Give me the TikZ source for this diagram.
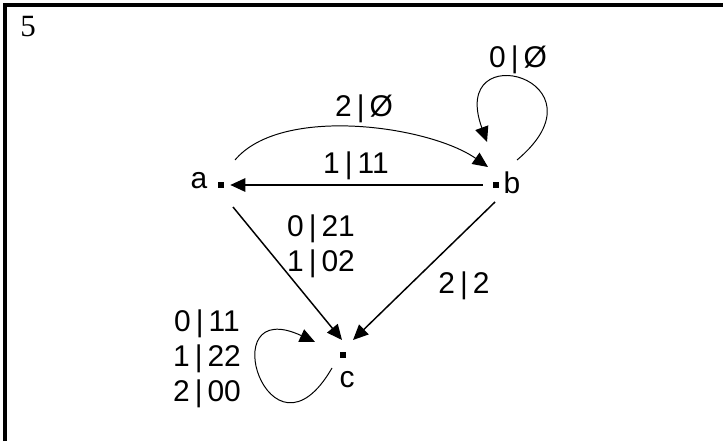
\documentclass[tikz,border=0pt]{standalone}
\usepackage{fontspec}
\setmainfont{Liberation Serif}
\newfontfamily\labelfont{Liberation Sans}
\usetikzlibrary{arrows.meta,positioning,calc}
\tikzset{
  vertex/.style={rectangle,fill=black,minimum size=0.15cm,inner sep=0pt},
  lbl/.style={font=\labelfont\fontsize{21.3}{24.9}\selectfont,inner sep=0pt,align=center},
  strongarr/.style={-{Triangle[length=0.38cm,width=0.34cm]},line width=1.05pt},
  thinarr/.style={-{Triangle[length=0.38cm,width=0.34cm]},line width=0.7pt}
}
\newcommand{\io}[2]{#1\,|\,#2}

\begin{document}
\begin{tikzpicture}[x=0.025cm,y=0.025cm]
  \useasboundingbox (0,0) rectangle (723,441);
  \draw[line width=0.1125cm] (5,0) -- (5,436) -- (723,436);
  \node[font=\fontsize{22}{26}\selectfont,inner sep=0pt] (num) at (28,414) {5};

  % states
  \node[vertex] (a) at (221,256) {};
  \node[vertex] (b) at (496,256) {};
  \node[vertex] (c) at (343,86) {};
  \node[lbl] (na) at (199,260.5) {a};
  \node[lbl] (nb) at (512,258.5) {b};
  \node[lbl] (nc) at (347,61.5) {c};

  % transitions
  \draw[strongarr,shorten <=0.25cm,shorten >=0.15cm] (b) -- (a);
  \draw[strongarr] ([shift={(12,-22)}]a.center) -- ([shift={(-1,15)}]c.center);
  \draw[strongarr] ([shift={(-1,-17)}]b.center) -- ([shift={(10,15)}]c.center);
  \draw[thinarr] ([shift={(14,25)}]a.center) .. controls +(50:72) and +(145:72) .. ([shift={(-8,18)}]b.center);
  \draw[thinarr] ([shift={(21,25)}]b.center) .. controls +(40:125) and +(110:115) .. ([shift={(-9,43)}]b.center);
  \draw[thinarr] ([shift={(-11,-13)}]c.center) .. controls +(240:125) and +(155:115) .. ([shift={(-28,13)}]c.center);

  % labels
  \node[lbl] (lab) at (364,332.5) {\io{2}{Ø}};
  \node[lbl] (lbb) at (518,381) {\io{0}{Ø}};
  \node[lbl] (lba) at (356,275) {\io{1}{11}};
  \node[lbl] (lac) at (321,194.5) {\io{0}{21}\\\io{1}{02}};
  \node[lbl] (lbc) at (464,155) {\io{2}{2}};
  \node[lbl] (lcc) at (207,82.5) {\io{0}{11}\\\io{1}{22}\\\io{2}{00}};
\end{tikzpicture}
\end{document}
